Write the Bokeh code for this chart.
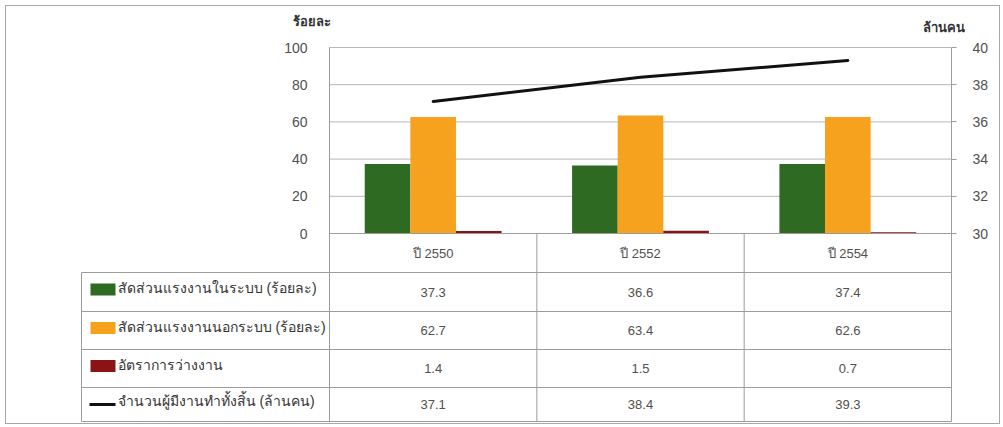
import numpy as np
from bokeh.plotting import figure
from bokeh.layouts import column
from bokeh.models import Range1d, LinearAxis, FixedTicker
from bokeh.core.properties import value
from bokeh.embed import file_html
from bokeh.resources import INLINE

# ---------------- data ----------------
years = ["ปี 2550", "ปี 2552", "ปี 2554"]
series_names = [
    "สัดส่วนแรงงานในระบบ (ร้อยละ)",
    "สัดส่วนแรงงานนอกระบบ (ร้อยละ)",
    "อัตราการว่างงาน",
    "จำนวนผู้มีงานทำทั้งสิ้น (ล้านคน)",
]
formal = [37.3, 36.6, 37.4]
informal = [62.7, 63.4, 62.6]
unemployment = [1.4, 1.5, 0.7]
employed = [37.1, 38.4, 39.3]
left_ticks = [0, 20, 40, 60, 80, 100]
right_ticks = [30, 32, 34, 36, 38, 40]
left_title = "ร้อยละ"
right_title = "ล้านคน"

# ---------------- style / layout constants ----------------
colors = ["#2f6a22", "#f6a21f", "#8a1414", "#111111"]
FONT = "Liberation Sans, Arial, sans-serif"
TFONT = "Liberation Sans, Tahoma, sans-serif"
TXT = "#505050"
GRID = "#b8b8b8"
RULE = "#9c9c9c"

OX, OY = 6, 6            # canvas origin (page px)
W, H = 993, 417          # canvas size
X0, PX = 329, 207.33     # page x of category 0 edge, px per category
Y0, PY = 233, 1.86       # page y of value 0, px per percent unit
ROW_EDGES_PX = [233, 272, 311, 349, 387, 421]   # table row boundaries (page px)


def fx(page_x):
    return (page_x - X0) / PX


def fy(page_y):
    return (Y0 - page_y) / PY


n = len(years)
xc = np.arange(n) + 0.5
row_edges = [fy(v) for v in ROW_EDGES_PX]
row_mid = [(a + b) / 2 for a, b in zip(row_edges[:-1], row_edges[1:])]
nrows = len(row_mid)
lab_left = fx(81)
tab_bottom = row_edges[-1]

p = figure(width=W, height=H,
           x_range=Range1d(fx(OX), fx(OX + W)),
           y_range=Range1d(fy(OY + H), fy(OY)),
           output_backend="svg", toolbar_location=None,
           x_axis_location=None, y_axis_location=None,
           min_border_left=0, min_border_right=0, min_border_top=0, min_border_bottom=0)
p.outline_line_color = None
p.background_fill_color = "white"
p.border_fill_color = "white"
for g in p.grid:
    g.visible = False

# extra range for employed persons (millions): 30 at 0%, 40 at 100%
rlo = right_ticks[0]
rscale = (right_ticks[-1] - right_ticks[0]) / (left_ticks[-1] - left_ticks[0])
p.extra_y_ranges = {"r": Range1d(rlo + fy(OY + H) * rscale, rlo + fy(OY) * rscale)}

# ---- axes ----
la = LinearAxis(fixed_location=0, ticker=FixedTicker(ticks=left_ticks))
la.axis_line_color = None
la.major_tick_out = 0
la.major_tick_in = 0
la.minor_tick_out = 0
la.minor_tick_in = 0
la.major_label_standoff = 22
la.major_label_text_font = FONT
la.major_label_text_font_size = "14px"
la.major_label_text_color = TXT
p.add_layout(la, "left")

ra = LinearAxis(y_range_name="r", fixed_location=n, ticker=FixedTicker(ticks=right_ticks))
ra.axis_line_color = None
ra.major_tick_out = 5
ra.major_tick_in = 0
ra.major_tick_line_color = RULE
ra.minor_tick_out = 0
ra.minor_tick_in = 0
ra.major_label_standoff = 16
ra.major_label_text_font = FONT
ra.major_label_text_font_size = "14px"
ra.major_label_text_color = TXT
p.add_layout(ra, "right")

# ---- chart gridlines ----
gy = left_ticks[1:]
p.segment(x0=[0] * len(gy), y0=gy, x1=[n] * len(gy), y1=gy, line_color=GRID, line_width=1)

# ---- bars ----
bw = 0.22
for off, vals, c in zip([-bw, 0, bw], [formal, informal, unemployment], colors[:3]):
    p.vbar(x=xc + off, top=vals, bottom=0, width=bw, fill_color=c, line_color=None)

# ---- line ----
p.line(x=xc, y=employed, y_range_name="r", line_color=colors[3], line_width=3, line_cap="round")

# ---- axis titles ----
p.text(x=[fx(311), fx(943)], y=[fy(21), fy(27)], text=[left_title, right_title],
       text_align="center", text_baseline="middle", text_font=value(TFONT),
       text_font_size="13px", text_font_style="bold", text_color="#333333")

# ---- data table rules ----
hx0 = [0.0] + [lab_left] * nrows
hx1 = [float(n)] * (nrows + 1)
p.segment(x0=hx0, y0=row_edges, x1=hx1, y1=row_edges, line_color=RULE, line_width=1)
vx = [lab_left, 0, 1, 2, 3]
vy0 = [row_edges[1], left_ticks[-1], 0, 0, left_ticks[-1]]
p.segment(x0=vx, y0=vy0, x1=vx, y1=[tab_bottom] * len(vx), line_color=RULE, line_width=1)

# ---- header ----
p.text(x=xc, y=[row_mid[0]] * n, text=years, text_align="center", text_baseline="middle",
       text_font=value(TFONT), text_font_size="13px", text_color=TXT)

# ---- values ----
all_vals = [formal, informal, unemployment, employed]
tx, ty, tt = [], [], []
for r, vals in enumerate(all_vals):
    for i, v in enumerate(vals):
        tx.append(xc[i]); ty.append(row_mid[r + 1]); tt.append(f"{v:.1f}")
p.text(x=tx, y=ty, text=tt, text_align="center", text_baseline="middle",
       text_font=value(FONT), text_font_size="13px", text_color=TXT)

# ---- legend keys + names ----
rows_y = np.array(row_mid[1:])
p.rect(x=[fx(102.5)] * 3, y=rows_y[:3] + 2.5 / PY, width=25, height=12,
       width_units="screen", height_units="screen", fill_color=colors[:3], line_color=None)
p.segment(x0=[fx(89)], y0=[rows_y[3]], x1=[fx(115)], y1=[rows_y[3]],
          line_color=colors[3], line_width=3)
p.text(x=[fx(117)] * len(series_names), y=rows_y + 4.0 / PY, text=series_names, text_align="left",
       text_baseline="middle", text_font=value(TFONT), text_font_size="14px", text_color="#333333")

layout = column(p, styles={"border": "1px solid #a8a8a8", "margin": "5px"})
open("out.html", "w").write(file_html(layout, INLINE))
